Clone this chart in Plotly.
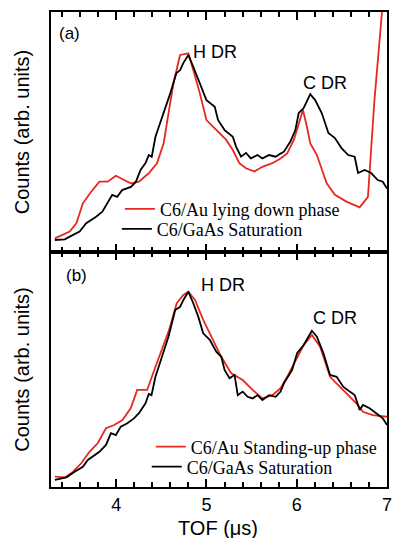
import plotly.graph_objects as go

# ---------------- data (TOF in microseconds, counts in arbitrary units) ----------------
tof_a_gaas = [3.321, 3.431, 3.485, 3.595, 3.668, 3.778, 3.847, 3.901, 3.956, 4.011, 4.066, 4.164,
              4.219, 4.270, 4.325, 4.361, 4.394, 4.435, 4.489, 4.544, 4.599, 4.668, 4.708, 4.745,
              4.799, 4.854, 4.927, 5.000, 5.092, 5.128, 5.201, 5.292, 5.328, 5.383, 5.438, 5.492,
              5.566, 5.620, 5.694, 5.766, 5.821, 5.858, 5.930, 5.985, 6.022, 6.077, 6.150, 6.204,
              6.277, 6.351, 6.423, 6.496, 6.570, 6.642, 6.679, 6.752, 6.825, 6.898, 6.953, 7.000]
cnt_a_gaas = [0.050, 0.053, 0.064, 0.085, 0.120, 0.147, 0.168, 0.204, 0.238, 0.230, 0.258, 0.271,
              0.293, 0.342, 0.371, 0.404, 0.397, 0.480, 0.538, 0.600, 0.661, 0.746, 0.758, 0.788,
              0.821, 0.772, 0.703, 0.633, 0.605, 0.550, 0.508, 0.480, 0.439, 0.397, 0.413, 0.390,
              0.404, 0.390, 0.404, 0.397, 0.410, 0.418, 0.460, 0.508, 0.579, 0.600, 0.658, 0.633,
              0.579, 0.496, 0.475, 0.433, 0.404, 0.397, 0.329, 0.342, 0.329, 0.300, 0.293, 0.265]

tof_a_au = [3.321, 3.412, 3.485, 3.559, 3.631, 3.723, 3.814, 3.905, 3.997, 4.088, 4.161, 4.252,
            4.361, 4.452, 4.526, 4.580, 4.635, 4.708, 4.799, 4.854, 4.927, 5.000, 5.109, 5.219,
            5.292, 5.365, 5.438, 5.530, 5.620, 5.730, 5.821, 5.894, 5.968, 6.022, 6.069, 6.113,
            6.149, 6.223, 6.332, 6.423, 6.551, 6.697, 6.789, 6.861, 6.945, 6.956]
cnt_a_au = [0.057, 0.071, 0.085, 0.120, 0.203, 0.251, 0.293, 0.293, 0.318, 0.300, 0.286, 0.293,
            0.328, 0.370, 0.453, 0.579, 0.704, 0.821, 0.828, 0.758, 0.661, 0.550, 0.508, 0.467,
            0.425, 0.370, 0.349, 0.335, 0.355, 0.370, 0.390, 0.411, 0.467, 0.538, 0.592, 0.522,
            0.453, 0.404, 0.286, 0.238, 0.210, 0.186, 0.230, 0.633, 0.988, 1.050]

tof_b_gaas = [3.321, 3.449, 3.540, 3.631, 3.686, 3.759, 3.814, 3.887, 3.942, 3.997, 4.051, 4.124,
              4.197, 4.252, 4.325, 4.361, 4.391, 4.435, 4.507, 4.580, 4.654, 4.708, 4.745, 4.799,
              4.854, 4.909, 4.964, 5.037, 5.109, 5.164, 5.201, 5.256, 5.311, 5.347, 5.402, 5.456,
              5.511, 5.566, 5.620, 5.694, 5.766, 5.821, 5.858, 5.949, 6.004, 6.077, 6.168, 6.223,
              6.296, 6.369, 6.442, 6.515, 6.587, 6.642, 6.661, 6.697, 6.734, 6.807, 6.880, 6.953,
              7.000]
cnt_b_gaas = [0.030, 0.041, 0.065, 0.086, 0.115, 0.136, 0.150, 0.179, 0.229, 0.221, 0.257, 0.271,
              0.292, 0.314, 0.356, 0.396, 0.391, 0.469, 0.554, 0.640, 0.753, 0.767, 0.796, 0.831,
              0.782, 0.725, 0.654, 0.626, 0.576, 0.554, 0.498, 0.463, 0.477, 0.391, 0.406, 0.384,
              0.377, 0.391, 0.370, 0.391, 0.384, 0.406, 0.441, 0.498, 0.569, 0.604, 0.665, 0.640,
              0.569, 0.477, 0.469, 0.427, 0.406, 0.391, 0.370, 0.328, 0.349, 0.335, 0.314, 0.292,
              0.264]

tof_b_au = [3.321, 3.431, 3.522, 3.613, 3.704, 3.795, 3.887, 3.978, 4.069, 4.161, 4.233, 4.343,
            4.435, 4.507, 4.580, 4.671, 4.745, 4.799, 4.873, 4.964, 5.073, 5.164, 5.274, 5.402,
            5.511, 5.620, 5.730, 5.821, 5.894, 6.004, 6.077, 6.168, 6.259, 6.369, 6.515, 6.661,
            6.734, 6.843, 7.000]
cnt_b_au = [0.044, 0.041, 0.065, 0.101, 0.150, 0.186, 0.250, 0.264, 0.285, 0.335, 0.413, 0.413,
            0.512, 0.583, 0.661, 0.782, 0.817, 0.831, 0.796, 0.711, 0.626, 0.554, 0.484, 0.455,
            0.413, 0.377, 0.391, 0.420, 0.469, 0.554, 0.604, 0.647, 0.597, 0.469, 0.413, 0.356,
            0.320, 0.306, 0.299]

x_ticks = [4, 5, 6, 7]
x_range = [3.278, 7.0]

RED = "#e8281e"
BLACK = "#000000"
SANS = "Liberation Sans, Arial, sans-serif"
SERIF = "Liberation Serif, Times New Roman, serif"

fig = go.Figure()
fig.add_trace(go.Scatter(x=tof_a_au, y=cnt_a_au, mode="lines", name="C6/Au lying down phase",
                         line=dict(color=RED, width=1.8), xaxis="x", yaxis="y", legend="legend",
                         showlegend=True))
fig.add_trace(go.Scatter(x=tof_a_gaas, y=cnt_a_gaas, mode="lines", name="C6/GaAs Saturation",
                         line=dict(color=BLACK, width=1.8), xaxis="x", yaxis="y", legend="legend2",
                         showlegend=True))
fig.add_trace(go.Scatter(x=tof_b_au, y=cnt_b_au, mode="lines", name="C6/Au Standing-up phase",
                         line=dict(color=RED, width=1.8), xaxis="x2", yaxis="y2", legend="legend3",
                         showlegend=True))
fig.add_trace(go.Scatter(x=tof_b_gaas, y=cnt_b_gaas, mode="lines", name="C6/GaAs Saturation",
                         line=dict(color=BLACK, width=1.8), xaxis="x2", yaxis="y2", legend="legend4",
                         showlegend=True))

split = 0.4947
xcommon = dict(range=x_range, showline=True, linecolor="black", linewidth=2, mirror="ticks",
               ticks="inside", ticklen=8, tickwidth=1.5, tickcolor="black",
               tickmode="array", tickvals=x_ticks, showgrid=False, zeroline=False,
               minor=dict(dtick=0.2, tick0=4, ticks="inside", ticklen=5, tickwidth=1.5, tickcolor="black"))
ycommon = dict(range=[0, 1], showline=True, linecolor="black", linewidth=2, mirror=True,
               ticks="", showticklabels=False, showgrid=False, zeroline=False,
               title=dict(text="Counts (arb. units)", font=dict(family=SANS, size=20, color="black"),
                          standoff=14))


def leg(x, y):
    return dict(x=x, y=y, xanchor="left", yanchor="middle", bgcolor="rgba(0,0,0,0)",
                font=dict(family=SERIF, size=18, color="black"), borderwidth=0, visible=True)


fig.update_layout(
    width=396, height=538,
    margin=dict(l=51, r=4, t=12, b=51),
    plot_bgcolor="white", paper_bgcolor="white",
    showlegend=True,
    xaxis=dict(domain=[0, 1], anchor="y", showticklabels=False, **xcommon),
    yaxis=dict(domain=[split, 1], anchor="x", **ycommon),
    xaxis2=dict(domain=[0, 1], anchor="y2", showticklabels=True,
                tickfont=dict(family=SANS, size=18, color="black"), **xcommon),
    yaxis2=dict(domain=[0, split], anchor="x2", **ycommon),
    legend=leg(0.205, 0.585),
    legend2=leg(0.196, 0.543),
    legend3=leg(0.297, 0.0842),
    legend4=leg(0.285, 0.0421),
    annotations=[
        dict(text="(a)", x=3.485, y=0.9125, xref="x", yref="y", showarrow=False,
             font=dict(family=SANS, size=17, color="black")),
        dict(text="H DR", x=5.095, y=0.833, xref="x", yref="y", showarrow=False,
             font=dict(family=SANS, size=18, color="black")),
        dict(text="C DR", x=6.31, y=0.704, xref="x", yref="y", showarrow=False,
             font=dict(family=SANS, size=18, color="black")),
        dict(text="(b)", x=3.562, y=0.902, xref="x2", yref="y2", showarrow=False,
             font=dict(family=SANS, size=17, color="black")),
        dict(text="H DR", x=5.18, y=0.86, xref="x2", yref="y2", showarrow=False,
             font=dict(family=SANS, size=18, color="black")),
        dict(text="C DR", x=6.42, y=0.719, xref="x2", yref="y2", showarrow=False,
             font=dict(family=SANS, size=18, color="black")),
        dict(text="TOF (μs)", x=5.13, y=-0.086, xref="x2", yref="paper", showarrow=False,
             yanchor="middle", xanchor="center",
             font=dict(family=SANS, size=20, color="black")),
    ],
)

fig.write_html("out.html")
